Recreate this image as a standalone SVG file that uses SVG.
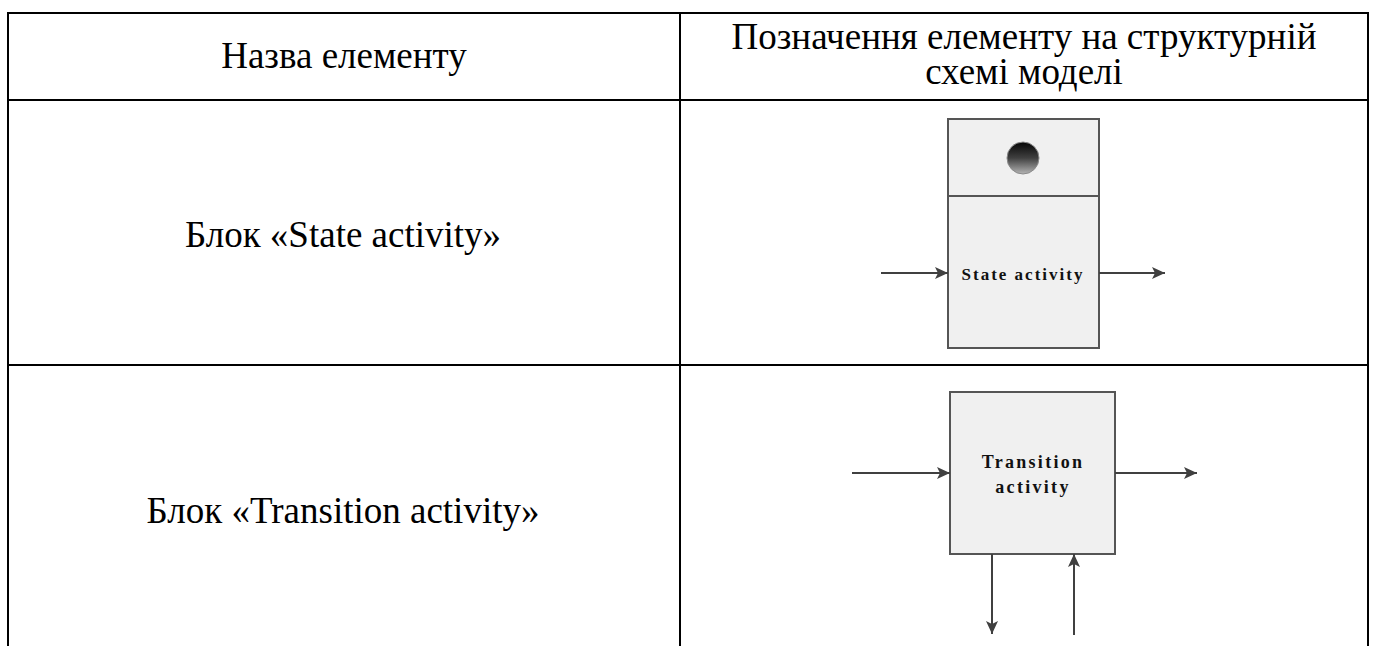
<svg xmlns="http://www.w3.org/2000/svg" width="1374" height="646" viewBox="0 0 1374 646">
  <style>
    .grid { stroke: #000; stroke-width: 2; fill: none; }
    .cell { font-family: "Liberation Serif", "Times New Roman", serif; font-size: 37px; fill: #000; text-anchor: middle; }
    .box { fill: #f0f0f0; stroke: #555; stroke-width: 2; }
    .lbl { font-family: "Liberation Serif", "Times New Roman", serif; font-weight: bold; fill: #111; text-anchor: middle; }
    .flow { stroke: #404040; stroke-width: 2; fill: none; marker-end: url(#head); }
  </style>
  <defs>
    <marker id="head" markerUnits="userSpaceOnUse" markerWidth="14" markerHeight="12" refX="13" refY="6" orient="auto">
      <path d="M0,0 L13,6 L0,12 L3,6 Z" fill="#404040"/>
    </marker>
    <linearGradient id="ball" x1="0" y1="0" x2="0" y2="1">
      <stop offset="0" stop-color="#050505"/>
      <stop offset="0.5" stop-color="#404040"/>
      <stop offset="1" stop-color="#b4b4b4"/>
    </linearGradient>
  </defs>

  <rect width="1374" height="646" fill="#fff"/>

  <!-- table grid -->
  <g id="table">
    <path class="grid" d="M8,13 H1368 M8,100 H1368 M8,365 H1368 M8,12 V646 M680,12 V646 M1368,12 V646"/>
    <text class="cell" x="344" y="68">Назва елементу</text>
    <text class="cell" x="1024" y="49">Позначення елементу на структурній</text>
    <text class="cell" x="1024" y="84">схемі моделі</text>
    <text class="cell" x="343" y="247">Блок «State activity»</text>
    <text class="cell" x="343" y="523">Блок «Transition activity»</text>
  </g>

  <!-- state activity block -->
  <g id="state-activity">
    <rect class="box" x="948" y="119" width="151" height="229"/>
    <line x1="948" y1="196" x2="1099" y2="196" stroke="#555" stroke-width="2"/>
    <circle cx="1023" cy="158" r="16" fill="url(#ball)" stroke="#8a8a8a" stroke-width="1"/>
    <text class="lbl" x="1023" y="280" font-size="17" letter-spacing="2">State activity</text>
  </g>

  <!-- transition activity block -->
  <g id="transition-activity">
    <rect class="box" x="950" y="392" width="165" height="162"/>
    <text class="lbl" x="1033" y="468" font-size="18" letter-spacing="2.3">Transition</text>
    <text class="lbl" x="1033" y="493" font-size="18" letter-spacing="2.3">activity</text>
  </g>

  <!-- connectors -->
  <g id="connectors">
    <line class="flow" x1="881" y1="273" x2="948" y2="273"/>
    <line class="flow" x1="1099" y1="273" x2="1165" y2="273"/>
    <line class="flow" x1="852" y1="473" x2="950" y2="473"/>
    <line class="flow" x1="1115" y1="473" x2="1197" y2="473"/>
    <line class="flow" x1="992" y1="554" x2="992" y2="634"/>
    <line class="flow" x1="1074" y1="635" x2="1074" y2="554"/>
  </g>
</svg>
